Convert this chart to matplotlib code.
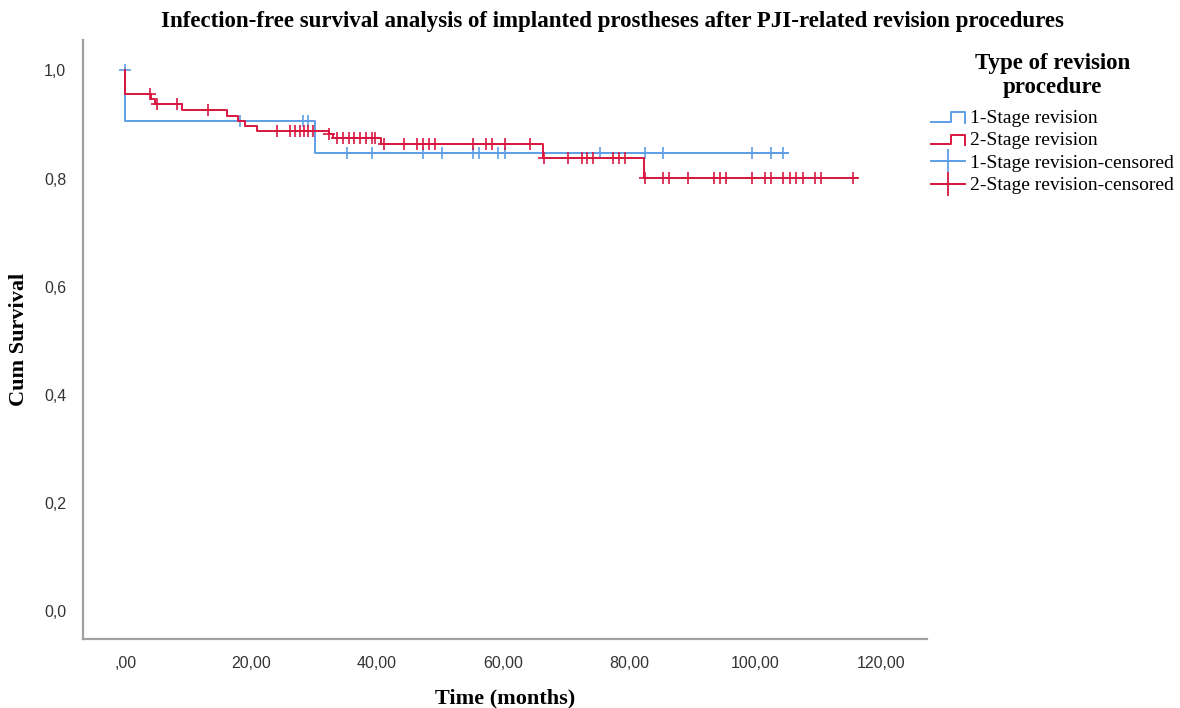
import numpy as np
import matplotlib
matplotlib.use("Agg")
import matplotlib.pyplot as plt
from matplotlib.lines import Line2D
from matplotlib.legend_handler import HandlerBase

# Kaplan-Meier steps (time in months, survival after the event)
one_stage_events = [0.0, 30.2]
one_stage_surv = [0.907, 0.848]
one_stage_end = 105.2
one_stage_censored = [0.0, 18.3, 28.3, 29.1, 35.2, 39.2, 47.3, 50.3, 55.3, 56.2,
                      59.2, 60.3, 75.4, 82.5, 85.4, 99.5, 102.5, 104.4]

two_stage_events = [0.0, 4.1, 4.8, 9.0, 16.2, 17.9, 19.0, 20.9, 32.3, 33.0,
                    40.6, 66.3, 82.4]
two_stage_surv = [0.957, 0.947, 0.938, 0.927, 0.916, 0.907, 0.897, 0.888, 0.882,
                  0.875, 0.863, 0.838, 0.801]
two_stage_end = 116.2
two_stage_censored = [4.0, 5.1, 8.2, 13.2, 24.1, 26.2, 27.0, 27.8, 28.4, 29.1, 29.9,
                      32.4, 33.7, 34.6, 35.6, 36.3, 37.3, 38.3, 39.2, 39.7, 41.1,
                      44.3, 46.3, 47.3, 48.3, 49.2, 55.3, 57.3, 58.2, 60.3, 64.3,
                      66.5, 70.3, 72.5, 73.3, 74.3, 77.5, 78.4, 79.4, 82.5, 85.4,
                      86.3, 89.4, 93.5, 94.4, 95.4, 99.5, 101.6, 102.5, 104.4, 105.6,
                      106.5, 107.6, 109.5, 110.5, 115.6]

x_ticks = [0, 20, 40, 60, 80, 100, 120]
x_labels = [",00", "20,00", "40,00", "60,00", "80,00", "100,00", "120,00"]
y_ticks = [0.0, 0.2, 0.4, 0.6, 0.8, 1.0]
y_labels = ["0,0", "0,2", "0,4", "0,6", "0,8", "1,0"]

blue = "#5f9ee8"
red = "#d8173f"
serif = "Liberation Serif"
sans = "Liberation Sans"


class StepHandler(HandlerBase):
    def create_artists(self, legend, orig_handle, xdescent, ydescent,
                       width, height, fontsize, trans):
        xs = np.array([0.0, 0.58, 0.58, 1.0, 1.0]) * width - xdescent
        ys = np.array([0.1, 0.1, 0.8, 0.8, 0.0]) * height - ydescent
        line = Line2D(xs, ys, color=orig_handle.get_color(),
                      lw=orig_handle.get_linewidth(), transform=trans)
        return [line]


def km_curve(ax, events, surv, end, censored, color):
    xs = np.r_[0.0, events, end]
    ys = np.r_[1.0, surv, surv[-1]]
    ax.step(xs, ys, where="post", color=color, lw=1.4)
    levels = np.r_[1.0, surv]
    cy = levels[np.searchsorted(events, censored, side="left")]
    ax.plot(censored, cy, ls="none", marker="+", ms=9, mew=1.2, color=color)


fig = plt.figure(figsize=(11.8, 7.08), dpi=100)
ax = fig.add_axes([0.0703, 0.0975, 0.7153, 0.846])

km_curve(ax, one_stage_events, one_stage_surv, one_stage_end, one_stage_censored, blue)
km_curve(ax, two_stage_events, two_stage_surv, two_stage_end, two_stage_censored, red)

ax.set_xlim(-6.7, 127.3)
ax.set_ylim(-0.051, 1.056)
ax.set_xticks(x_ticks)
ax.set_xticklabels(x_labels, family=sans, fontsize=11.5, color="#333333")
ax.set_yticks(y_ticks)
ax.set_yticklabels(y_labels, family=sans, fontsize=11.5, color="#333333")
ax.tick_params(length=0, pad=12)
for s in ["top", "right"]:
    ax.spines[s].set_visible(False)
for s in ["left", "bottom"]:
    ax.spines[s].set_color("#a0a0a0")
    ax.spines[s].set_linewidth(1.6)

ax.set_xlabel("Time (months)", family=serif, fontweight="bold", fontsize=16)
ax.set_ylabel("Cum Survival", family=serif, fontweight="bold", fontsize=16)
ax.xaxis.set_label_coords(0.5, -0.082)
ax.yaxis.set_label_coords(-0.064, 0.5)

fig.text(0.519, 0.969, "Infection-free survival analysis of implanted prostheses after "
         "PJI-related revision procedures", ha="center", va="center",
         family=serif, fontweight="bold", fontsize=16.5)

h1 = Line2D([], [], color=blue, lw=1.4)
h2 = Line2D([], [], color=red, lw=1.4)
h3 = Line2D([], [], color=blue, lw=1.4, marker="+", ms=17, mew=1.3)
h4 = Line2D([], [], color=red, lw=1.4, marker="+", ms=17, mew=1.3)
leg = ax.legend([h1, h2, h3, h4],
                ["1-Stage revision", "2-Stage revision",
                 "1-Stage revision-censored", "2-Stage revision-censored"],
                handler_map={h1: StepHandler(), h2: StepHandler()},
                loc="upper left", bbox_to_anchor=(0.789, 0.925),
                bbox_transform=fig.transFigure,
                frameon=False, prop={"family": serif, "size": 14},
                title="Type of revision\nprocedure",
                title_fontproperties={"family": serif, "weight": "bold", "size": 16.5},
                handlelength=1.75, handletextpad=0.25, labelspacing=0.25,
                borderaxespad=0, borderpad=0)
leg.get_title().set_multialignment("center")
leg._legend_box.sep = 8

fig.savefig("out.png", dpi=100)
